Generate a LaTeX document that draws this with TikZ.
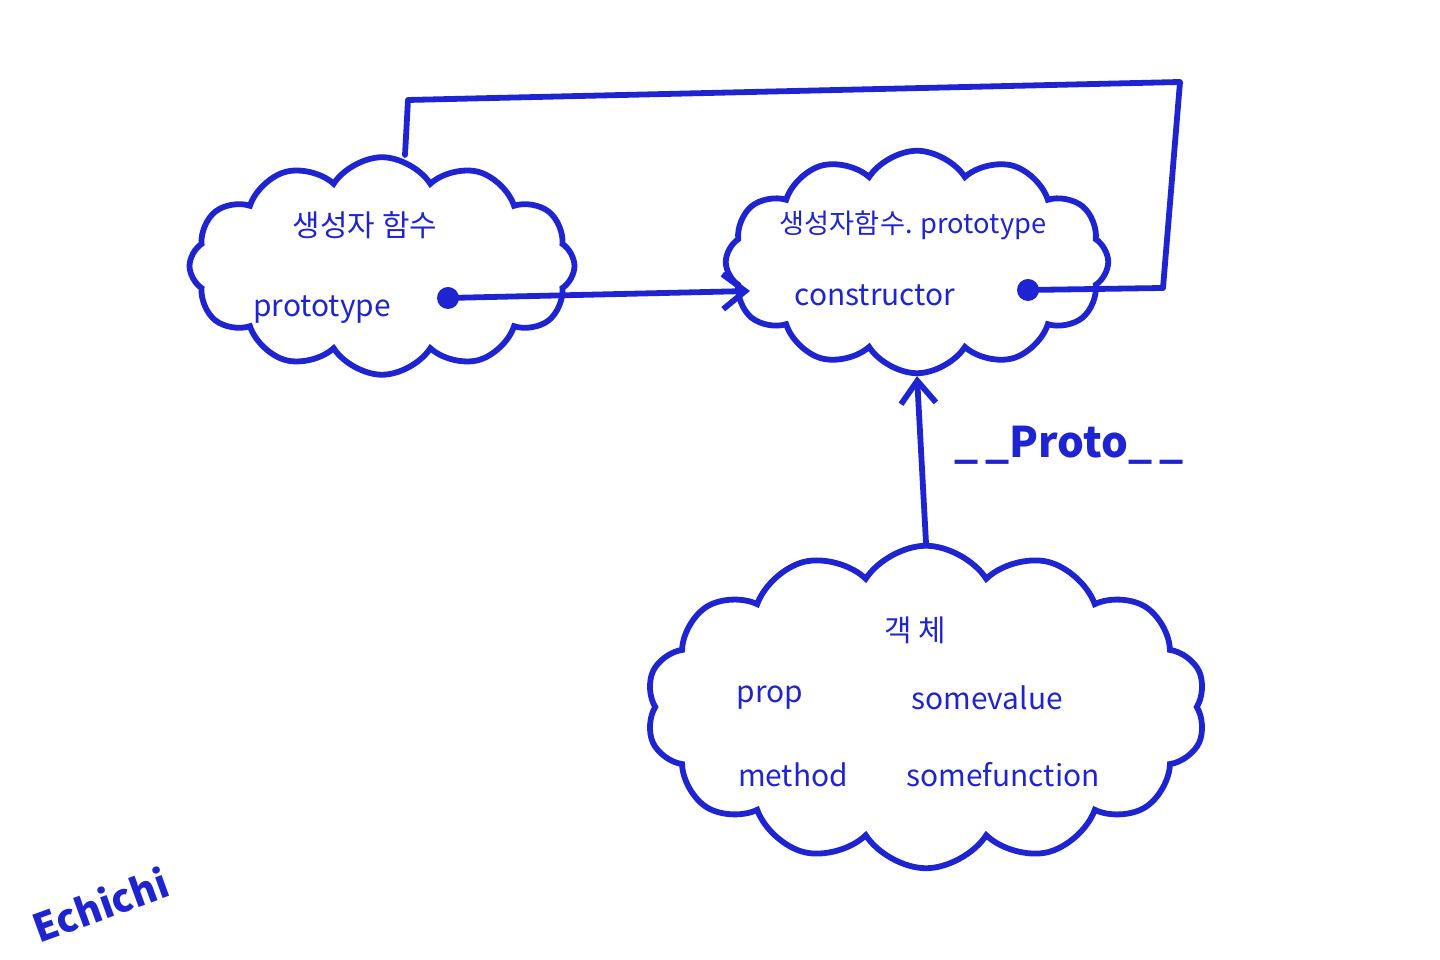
\documentclass[tikz,border=0pt]{standalone}
\usepackage{fontspec}
\newfontfamily\kr{Noto Sans CJK KR}
\usetikzlibrary{arrows.meta, shapes.symbols}
\definecolor{inkblue}{HTML}{1F24D2}

\begin{document}
\begin{tikzpicture}[font=\kr\fontsize{17}{19}\selectfont, text=inkblue,
    puff/.style={cloud, cloud puffs=12, cloud puff arc=115, cloud ignores aspect,
                 draw=inkblue, line width=3.3pt, inner sep=0pt},
    pin/.style={circle, fill=inkblue, inner sep=0pt, minimum size=0.44cm},
    wire/.style={draw=inkblue, line width=3.3pt, line join=round, line cap=round},
    hook/.style={wire, -{Straight Barb[length=4.5mm, width=7mm]}}]
  \useasboundingbox (0,0) rectangle (28.8,19.2);
  % the three clouds
  \node[puff, minimum width=7.7cm, minimum height=4.35cm] (ctor) at (7.64,13.88) {};
  \node[puff, minimum width=7.65cm, minimum height=4.45cm] (proto) at (18.34,13.96) {};
  \node[puff, cloud puffs=14, minimum width=11.2cm, minimum height=6.45cm] (obj) at (18.52,5.06) {};
  % texts
  \node (ctorname) at (7.30,14.70) {생성자 함수};
  \node (ctorprop) at (6.44,13.0) {prototype};
  \node[font=\kr\fontsize{15.5}{17}\selectfont] (protoname) at (18.26,14.70) {생성자함수. prototype};
  \node (protoprop) at (17.50,13.30) {constructor};
  \node (objname) at (18.30,6.60) {객 체};
  \foreach \key/\val/\kx/\vx/\y in {prop/somevalue/15.40/19.74/5.25,
                                    method/somefunction/15.86/20.06/3.70}{%
    \node (k\key) at (\kx,\y) {\key};
    \node (v\key) at (\vx,\y) {\val};}
  \node[font=\kr\bfseries\fontsize{24}{26}\selectfont] (link) at (21.38,10.30) {\_\,\_Proto\_\,\_};
  \node[font=\kr\bfseries\fontsize{22}{24}\selectfont, rotate=20] (sign) at (2.0,1.10) {Echichi};
  % pins and wires
  \node[pin] (dotA) at (8.96,13.24) {};
  \node[pin] (dotB) at (20.56,13.40) {};
  \coordinate (inB) at (15.0,13.38);
  \coordinate (loopR) at (23.26,13.44);
  \coordinate (loopTR) at (23.6,17.56);
  \coordinate (loopTL) at (8.16,17.2);
  \coordinate (topA) at (8.10,16.1);
  \draw[hook] (dotA.center) -- (inB);
  \draw[wire] (dotB.center) -- (loopR) -- (loopTR) -- (loopTL) -- (topA);
  \draw[hook] (obj.north) -- (proto.south);
\end{tikzpicture}
\end{document}
